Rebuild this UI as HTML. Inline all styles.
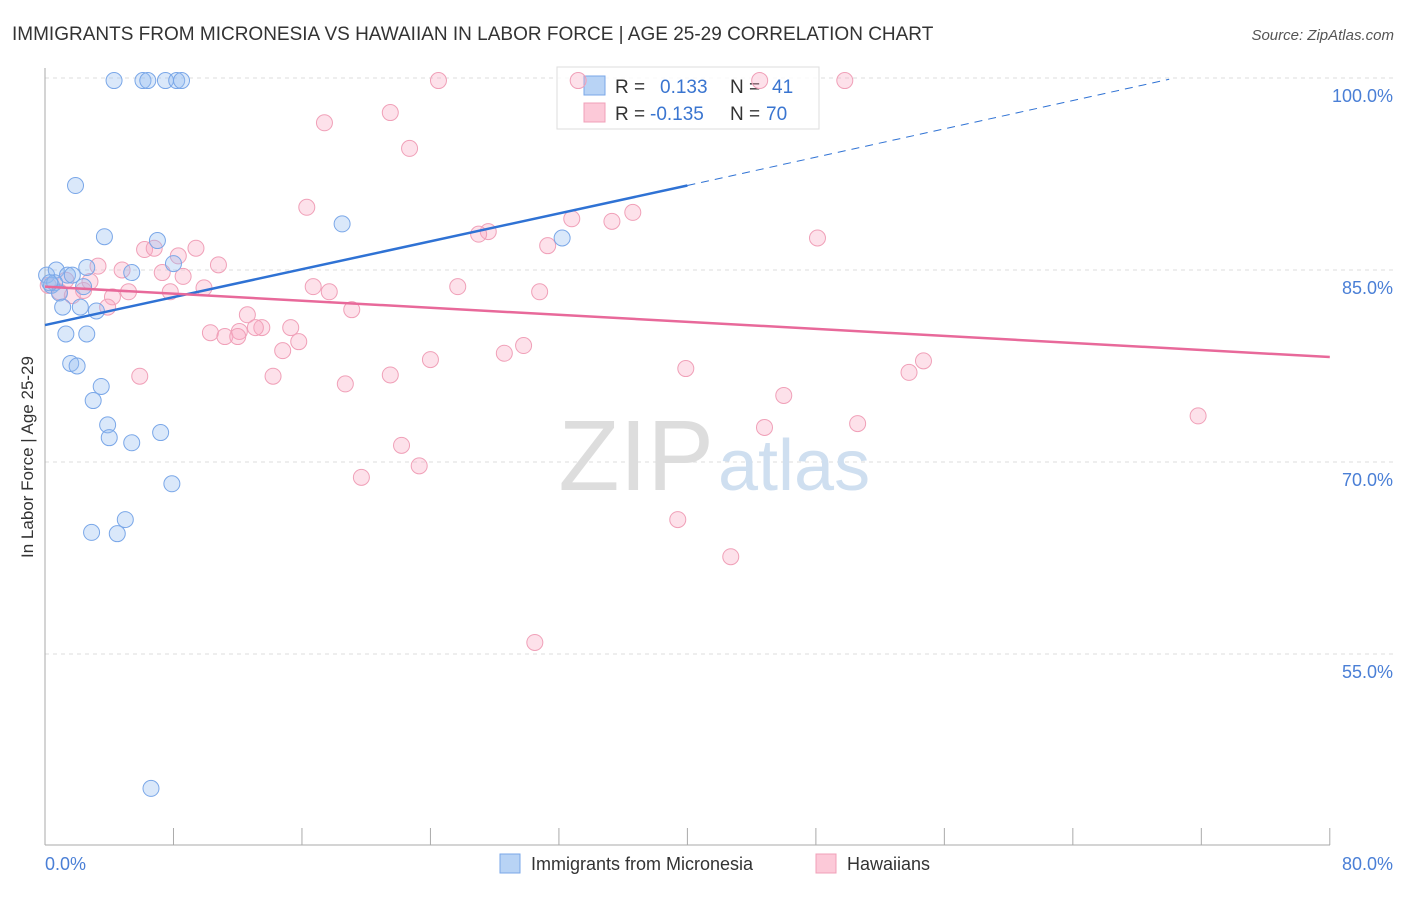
<!DOCTYPE html>
<html><head><meta charset="utf-8"><style>
body{margin:0;background:#fff;font-family:"Liberation Sans",sans-serif}
svg text{font-family:"Liberation Sans",sans-serif}
</style></head><body>
<svg width="1406" height="892">
<text x="12" y="40" font-size="19" fill="#333">IMMIGRANTS FROM MICRONESIA VS HAWAIIAN IN LABOR FORCE | AGE 25-29 CORRELATION CHART</text>
<text x="1394" y="40" font-size="15" fill="#555" font-style="italic" text-anchor="end">Source: ZipAtlas.com</text>
<g id="grid"></g>
<text x="714" y="490" font-size="100" fill="#ddd" text-anchor="end" font-family="Liberation Serif">ZIP</text>
<text x="718" y="490" font-size="72" fill="#cfdff0">atlas</text>
<line x1="45" y1="68" x2="45" y2="845" stroke="#aaa"/>
<line x1="45" y1="845" x2="1330" y2="845" stroke="#aaa"/>
<g id="ticks"></g>
<text x="33" y="457" font-size="17" fill="#333" text-anchor="middle" transform="rotate(-90 33 457)">In Labor Force | Age 25-29</text>
<text x="45" y="870" font-size="18" fill="#4a7fd6">0.0%</text>
<text x="1393" y="870" font-size="18" fill="#4a7fd6" text-anchor="end">80.0%</text>
<g>
<rect x="557" y="67" width="262" height="62" fill="#fff" fill-opacity="0.85" stroke="#ddd"/>
<rect x="584" y="76" width="21" height="19" fill="#b8d3f5" stroke="#7aa7e8"/>
<rect x="584" y="103" width="21" height="19" fill="#fcc9d8" stroke="#f0a0b8"/>
<text x="615" y="93" font-size="19" fill="#333">R = </text><text x="660" y="93" font-size="19" fill="#3a75d0">0.133</text>
<text x="730" y="93" font-size="19" fill="#333">N = </text><text x="772" y="93" font-size="19" fill="#3a75d0">41</text>
<text x="615" y="120" font-size="19" fill="#333">R = </text><text x="650" y="120" font-size="19" fill="#3a75d0">-0.135</text>
<text x="730" y="120" font-size="19" fill="#333">N = </text><text x="766" y="120" font-size="19" fill="#3a75d0">70</text>
</g>
<g id="pts"></g>
<g id="trend"></g>
<g>
<rect x="500" y="854" width="20" height="19" fill="#b8d3f5" stroke="#7aa7e8"/>
<text x="531" y="870" font-size="18" fill="#333">Immigrants from Micronesia</text>
<rect x="816" y="854" width="20" height="19" fill="#fcc9d8" stroke="#f0a0b8"/>
<text x="847" y="870" font-size="18" fill="#333">Hawaiians</text>
</g>
</svg>
<script>
const yTicks=[55,70,85,100];
const yTickLabels=["55.0%","70.0%","85.0%","100.0%"];
const xTicks=[0,8,16,24,32,40,48,56,64,72,80];
const blueX=[4.3,6.1,6.4,7.5,8.2,8.5,1.9,18.5,3.7,7.0,32.2,0.1,0.7,1.4,1.7,2.6,5.4,8.0,0.4,0.6,0.9,1.1,2.2,3.2,2.4,1.3,2.6,1.6,2.0,3.5,3.0,3.9,4.0,5.4,7.2,7.9,5.0,2.9,4.5,6.6,0.3];
const blueY=[99.8,99.8,99.8,99.8,99.8,99.8,91.6,88.6,87.6,87.3,87.5,84.6,85.0,84.6,84.6,85.2,84.8,85.5,83.8,84.0,83.2,82.1,82.1,81.8,83.7,80.0,80.0,77.7,77.5,75.9,74.8,72.9,71.9,71.5,72.3,68.3,65.5,64.5,64.4,44.5,84.0];
const pinkX=[24.5,33.2,44.5,49.8,21.5,17.4,22.7,16.3,36.6,35.3,32.8,27.6,27.0,48.1,31.3,6.2,6.8,9.4,8.3,3.3,4.8,7.3,10.8,8.6,0.2,0.9,1.7,2.4,4.2,5.2,7.8,9.9,16.7,17.7,25.7,30.8,3.9,19.1,12.6,13.5,15.3,13.1,12.1,10.3,11.2,12.0,15.8,14.8,28.6,29.8,24.0,54.7,39.9,53.8,5.9,14.2,21.5,18.7,46.0,44.8,50.6,71.8,22.2,23.3,19.7,39.4,42.7,30.5,2.8,1.3];
const pinkY=[99.8,99.8,99.8,99.8,97.3,96.5,94.5,89.9,89.5,88.8,89.0,88.0,87.8,87.5,86.9,86.6,86.7,86.7,86.1,85.3,85.0,84.8,85.4,84.5,83.8,83.3,83.0,83.4,82.9,83.3,83.3,83.6,83.7,83.3,83.7,83.3,82.1,81.9,81.5,80.5,80.5,80.5,80.2,80.1,79.8,79.8,79.4,78.7,78.5,79.1,78.0,77.9,77.3,77.0,76.7,76.7,76.8,76.1,75.2,72.7,73.0,73.6,71.3,69.7,68.8,65.5,62.6,55.9,84.1,84.2];
const blueTrend=[[0,80.7],[40,91.6],[70,99.9]];
const pinkTrend=[[0,83.7],[80,78.2]];
const NS="http://www.w3.org/2000/svg";
const X=v=>45+v*16.06, Y=v=>270-(v-85)*12.8;
function mk(t,a,p){const e=document.createElementNS(NS,t);for(const k in a)e.setAttribute(k,a[k]);p.appendChild(e);return e;}
const grid=document.getElementById('grid');
yTicks.forEach((v,i)=>{const l=mk('line',{x1:45,x2:1393,y1:Y(v),y2:Y(v),stroke:'#ddd','stroke-dasharray':'4,4'},grid);


const t=mk('text',{x:1393,y:Y(v)+24,'font-size':18,fill:'#4a7fd6','text-anchor':'end'},grid);t.textContent=yTickLabels[i];

});
const tk=document.getElementById('ticks');
xTicks.forEach(v=>{const l=mk('line',{x1:X(v),x2:X(v),y1:828,y2:845,stroke:'#aaa'},tk);

});
const pts=document.getElementById('pts');
pinkX.forEach((x,i)=>{const c=mk('circle',{cx:X(x),cy:Y(pinkY[i]),r:8,fill:'rgba(248,170,195,0.35)',stroke:'#f0a0b8','stroke-width':1},pts);

});
blueX.forEach((x,i)=>{const c=mk('circle',{cx:X(x),cy:Y(blueY[i]),r:8,fill:'rgba(150,190,240,0.35)',stroke:'#7aa7e8','stroke-width':1},pts);

});
const tr=document.getElementById('trend');
let l=mk('line',{x1:X(blueTrend[0][0]),y1:Y(blueTrend[0][1]),x2:X(blueTrend[1][0]),y2:Y(blueTrend[1][1]),stroke:'#2f72d4','stroke-width':2.5},tr);


l=mk('line',{x1:X(blueTrend[1][0]),y1:Y(blueTrend[1][1]),x2:X(blueTrend[2][0]),y2:Y(blueTrend[2][1]),stroke:'#2f72d4','stroke-width':1,'stroke-dasharray':'8,6'},tr);


l=mk('line',{x1:X(pinkTrend[0][0]),y1:Y(pinkTrend[0][1]),x2:X(pinkTrend[1][0]),y2:Y(pinkTrend[1][1]),stroke:'#e8699a','stroke-width':2.5},tr);


</script>
</body></html>
